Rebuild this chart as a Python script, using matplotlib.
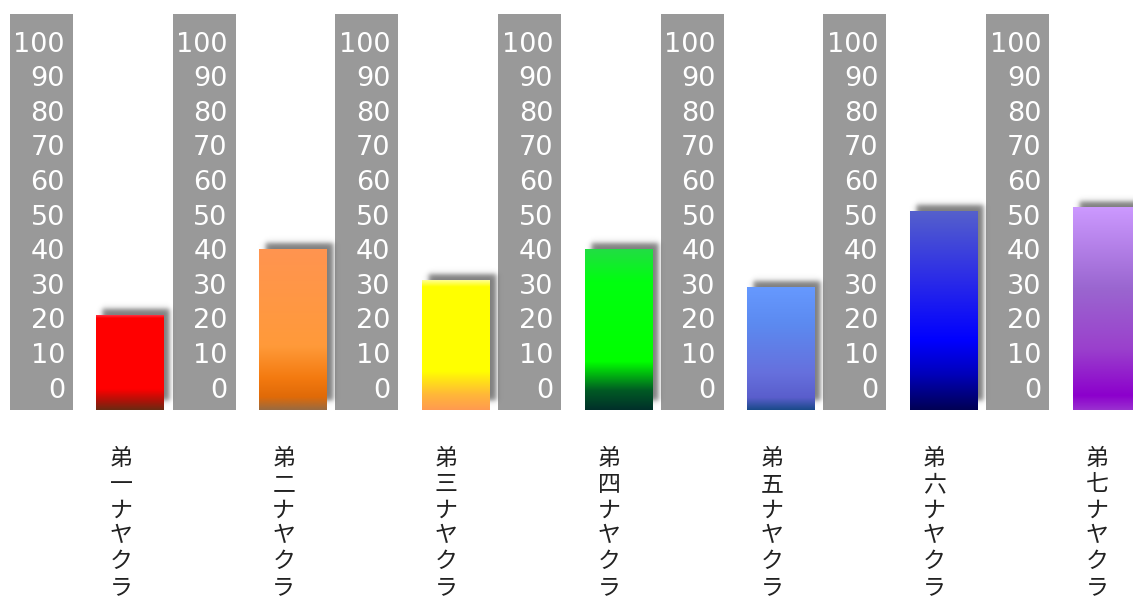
import numpy as np
import matplotlib
matplotlib.use("Agg")
import matplotlib.pyplot as plt
from matplotlib.colors import LinearSegmentedColormap, to_rgb

# data
categories = ["弟一ナヤクラ", "弟二ナヤクラ", "弟三ナヤクラ", "弟四ナヤクラ",
              "弟五ナヤクラ", "弟六ナヤクラ", "弟七ナヤクラ"]
values = [21, 40, 31, 40, 29, 51, 52]
ticks = list(range(0, 101, 10))

# gradient stops, bottom (0) -> top (1)
gradients = [
    [(0, "#6a2a12"), (0.1, "#b01208"), (0.22, "#ff0000"), (0.97, "#ff0000"), (1, "#ff3040")],
    [(0, "#9a6a40"), (0.08, "#e06a08"), (0.2, "#f47a10"), (0.4, "#ff9a3a"), (1, "#ff9450")],
    [(0, "#ff9a50"), (0.12, "#ffb838"), (0.3, "#ffff00"), (0.95, "#ffff00"), (1, "#ffff90")],
    [(0, "#00302a"), (0.12, "#005a24"), (0.3, "#00ff00"), (0.8, "#00ff10"), (1, "#22dd44")],
    [(0, "#1a4a8a"), (0.1, "#5a5ecc"), (0.3, "#6670dd"), (0.7, "#5c8af0"), (1, "#6699ff")],
    [(0, "#000055"), (0.18, "#0000bb"), (0.35, "#0000ff"), (0.65, "#2a2ae8"), (1, "#5560cc")],
    [(0, "#9a30d0"), (0.07, "#8c00cc"), (0.3, "#9a40cc"), (0.6, "#9a66d0"), (1, "#cc99ff")],
]

BASE = -6.4       # bottom of strips and bars
STRIP_TOP = 108
BAR_W = 0.412
STRIP_W = 0.387
STRIP_OFF = -0.544

fig = plt.figure(figsize=(11.33, 5.98), dpi=100)
ax = fig.add_axes([0, 0, 1, 1])
ax.set_xlim(-0.799, 6.165)
ax.set_ylim(-60.7, 112.1)
ax.axis("off")

# pixel sizes in data units
px_x = (6.165 + 0.799) / 1133
px_y = (112.1 + 60.7) / 598


def soft_edge(t, lo, hi, s):
    return 0.5 * (np.tanh((t - lo) / s) - np.tanh((t - hi) / s))


def shadow(x0, x1, y0, y1, dx=6, dy=5, blur=3.0):
    # blurred dark box shifted right and up
    pad = 14
    xs = np.arange(-pad, (x1 - x0) / px_x + pad)
    ys = np.arange(-pad, (y1 - y0) / px_y + pad)
    w = (x1 - x0) / px_x
    h = (y1 - y0) / px_y
    fx = soft_edge(xs, dx, w + dx, blur)
    fy = soft_edge(ys, dy + 4, h + dy, blur)
    a = np.outer(fy, fx) * 0.65
    img = np.zeros(a.shape + (4,))
    img[..., :3] = 0.22
    img[..., 3] = a
    ax.imshow(img, origin="lower", aspect="auto", interpolation="bilinear",
              extent=(x0 - pad * px_x, x0 + (len(xs) - pad) * px_x,
                      y0 - pad * px_y, y0 + (len(ys) - pad) * px_y),
              zorder=2)


for i, (cat, val) in enumerate(zip(categories, values)):
    # grey scale strip
    ax.bar(i + STRIP_OFF, STRIP_TOP - BASE, bottom=BASE, width=STRIP_W,
           color="#999999", zorder=1)
    sx = i + STRIP_OFF + STRIP_W / 2 - 8 * px_x
    for t in ticks:
        ax.text(sx, t - 0.8, str(t), ha="right", va="center", color="white",
                fontsize=19.5, family="DejaVu Sans", zorder=3)

    # bar with shadow and gradient
    x0, x1 = i - BAR_W / 2, i + BAR_W / 2
    shadow(x0, x1, BASE, val)
    cmap = LinearSegmentedColormap.from_list(
        f"g{i}", [(p, to_rgb(c)) for p, c in gradients[i]])
    grad = np.linspace(0, 1, 256).reshape(-1, 1)
    ax.imshow(grad, cmap=cmap, origin="lower", aspect="auto",
              extent=(x0, x1, BASE, val), zorder=4, interpolation="bilinear")

    # vertical label
    lx = i - 9 * px_x
    for k, ch in enumerate(cat):
        ax.text(lx, -20.5 - k * 25.7 * px_y, ch, ha="center", va="center",
                fontsize=16.5, family=["Noto Sans CJK JP", "DejaVu Sans"],
                color="#222222", zorder=3)

fig.savefig("out.png", dpi=100)
